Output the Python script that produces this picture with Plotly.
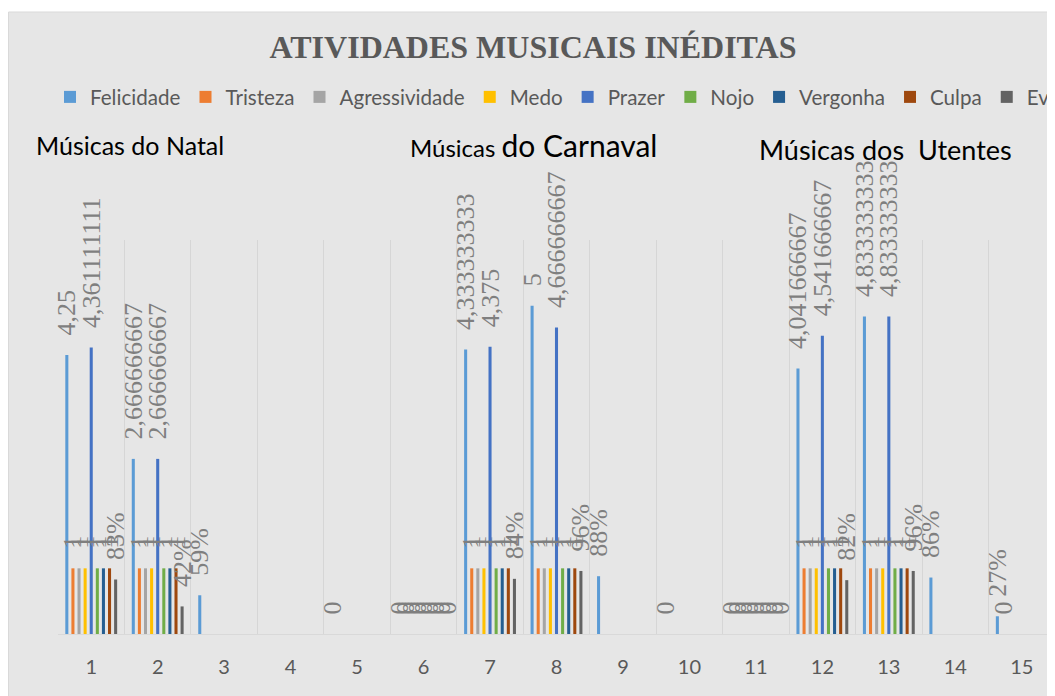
import plotly.graph_objects as go

categories = list(range(1, 15 + 1))
series_names = ["Felicidade", "Tristeza", "Agressividade", "Medo", "Prazer",
                "Nojo", "Vergonha", "Culpa", "Ev"]
series_colors = ["#5B9BD5", "#ED7D31", "#A5A5A5", "#FFC000", "#4472C4",
                 "#70AD47", "#255E91", "#9E480E", "#636363"]

felicidade = [4.25, 2.666666667, 0.59, None, 0, 0, 4.333333333, 5, 0.88, 0, 0,
              4.041666667, 4.833333333, 0.86, 0.27]
tristeza = [1, 1, None, None, None, 0, 1, 1, None, None, 0, 1, 1, None, 0]
agressividade = [1, 1, None, None, None, 0, 1, 1, None, None, 0, 1, 1, None, None]
medo = [1, 1, None, None, None, 0, 1, 1, None, None, 0, 1, 1, None, None]
prazer = [4.361111111, 2.666666667, None, None, None, 0, 4.375, 4.666666667, None,
          None, 0, 4.541666667, 4.833333333, None, None]
nojo = [1, 1, None, None, None, 0, 1, 1, None, None, 0, 1, 1, None, None]
vergonha = [1, 1, None, None, None, 0, 1, 1, None, None, 0, 1, 1, None, None]
culpa = [1, 1, None, None, None, 0, 1, 1, None, None, 0, 1, 1, None, None]
ev = [0.83, 0.42, None, None, None, 0, 0.84, 0.96, None, None, 0, 0.82, 0.96, None, None]

all_series = [felicidade, tristeza, agressividade, medo, prazer, nojo, vergonha, culpa, ev]

title_text = "ATIVIDADES MUSICAIS INÉDITAS"


def fmt(v):
    if v is None:
        return ""
    if 0 < v < 1:
        s = f"{round(v * 100)}%"
    else:
        s = ("%.10g" % v).replace(".", ",")
    return "\u00a0\u00a0\u00a0" + s


BG = "#e6e6e6"
fig = go.Figure()
for name, color, vals in zip(series_names, series_colors, all_series):
    fig.add_trace(go.Bar(
        x=categories, y=vals, name=name, marker=dict(color=color, line=dict(width=0)),
        text=[fmt(v) for v in vals], textposition="outside", textangle=-90,
        textfont=dict(family="Liberation Serif", size=26, color="#7f7f7f"),
        constraintext="none", cliponaxis=False,
    ))

# page has an 8px body margin; figure sized to fit the viewport exactly
OFF = 8
W, H = 1055 - OFF, 696 - OFF
L, R, T, B = 50, 0, 232, 62
pw, ph = W - L - R, H - T - B


def px_x(page_px):
    return (page_px - OFF - L) / pw


def px_y(page_py):
    return (H - B - (page_py - OFF)) / ph


fig.update_layout(
    width=W, height=H, autosize=False,
    margin=dict(l=L, r=R, t=T, b=B, pad=0),
    paper_bgcolor="white", plot_bgcolor=BG,
    barmode="group", bargap=0.174, bargroupgap=0.5,
    title=dict(text=title_text, x=(533 - OFF) / W, xanchor="center", xref="container",
               y=1 - (47 - OFF) / H, yanchor="middle", yref="container",
               font=dict(family="Liberation Serif", size=32, color="#595959", weight="bold")),
    legend=dict(orientation="h", x=-0.0005, xanchor="left", y=px_y(97), yanchor="middle",
                font=dict(family="Lato", size=20.6, color="#595959"),
                bgcolor="rgba(0,0,0,0)", traceorder="normal"),
    xaxis=dict(range=[0.5, 15.5], tickmode="array", tickvals=categories,
               ticktext=[str(c) for c in categories], showgrid=False, zeroline=False,
               ticks="", showline=True, linecolor="#d9d9d9", linewidth=1,
               tickfont=dict(family="Lato", size=20, color="#595959"),
               ticklabelstandoff=15,
               minor=dict(tickmode="array", tickvals=[c - 0.5 for c in categories] + [15.5],
                          showgrid=True, gridcolor="#d6d6d6", gridwidth=1, ticks="")),
    yaxis=dict(range=[0, 6], showgrid=False, showticklabels=False, zeroline=False,
               showline=False, ticks=""),
    shapes=[dict(type="rect", xref="paper", yref="paper", x0=px_x(8.5), x1=1.05,
                 y0=-0.3, y1=px_y(12), fillcolor=BG, line=dict(color="#d9d9d9", width=1),
                 layer="below")],
    annotations=[
        dict(text="Músicas do Natal", xref="paper", yref="paper", x=px_x(129.5), y=px_y(145),
             xanchor="center", yanchor="middle", showarrow=False,
             font=dict(family="Lato", size=25, color="#000000")),
        dict(text="Músicas <span style='font-size:30px'>do Carnaval</span>", xref="paper",
             yref="paper", x=px_x(533), y=px_y(145), xanchor="center", yanchor="middle",
             showarrow=False, font=dict(family="Lato", size=24, color="#000000")),
        dict(text="Músicas dos\u00a0 Utentes", xref="paper", yref="paper", x=px_x(885),
             y=px_y(149), xanchor="center", yanchor="middle", showarrow=False,
             font=dict(family="Lato", size=27, color="#000000")),
    ],
)

fig.write_html("out.html")
